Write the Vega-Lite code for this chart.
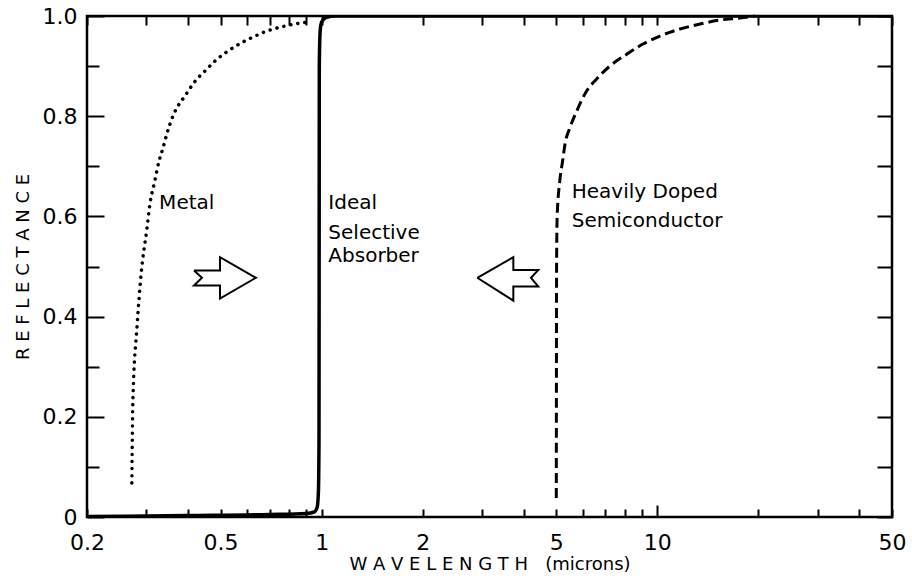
{
  "$schema": "https://vega.github.io/schema/vega-lite/v6.json",
  "width": 805,
  "height": 501,
  "autosize": "none",
  "padding": {"left": 87, "top": 16, "right": 20, "bottom": 66},
  "background": "white",
  "config": {
    "view": {"stroke": "black", "strokeWidth": 2.5},
    "axis": {
      "grid": false,
      "domain": false,
      "tickColor": "black",
      "tickWidth": 2,
      "labelColor": "black",
      "titleColor": "black",
      "labelFont": "DejaVu Sans",
      "titleFont": "DejaVu Sans",
      "labelFontWeight": "normal",
      "titleFontWeight": "normal"
    }
  },
  "resolve": {"axis": {"x": "independent", "y": "independent"}},
  "layer": [
    {
      "data": {"values": [
        {"w": 0.2, "r": 0.001}, {"w": 0.4, "r": 0.003}, {"w": 0.7, "r": 0.005},
        {"w": 0.9, "r": 0.007}, {"w": 0.95, "r": 0.01}, {"w": 0.97, "r": 0.02},
        {"w": 0.978, "r": 0.05}, {"w": 0.982, "r": 0.15}, {"w": 0.983, "r": 0.5},
        {"w": 0.984, "r": 0.9}, {"w": 0.99, "r": 0.97}, {"w": 1.0, "r": 0.988},
        {"w": 1.03, "r": 0.997}, {"w": 1.1, "r": 1.0}, {"w": 50, "r": 1.0}
      ]},
      "mark": {"type": "line", "color": "black", "strokeWidth": 3.5, "interpolate": "monotone", "clip": true},
      "encoding": {
        "x": {
          "field": "w", "type": "quantitative",
          "scale": {"type": "log", "domain": [0.2, 50], "nice": false},
          "axis": {
            "orient": "bottom",
            "title": "W A V E L E N G T H\u00a0\u00a0\u00a0(microns)",
            "titleFontSize": 18,
            "titlePadding": 2,
            "values": [0.2, 0.3, 0.4, 0.5, 0.6, 0.7, 0.8, 0.9, 1, 2, 3, 4, 5, 6, 7, 8, 9, 10, 20, 30, 40, 50],
            "format": "~g",
            "labelExpr": "indexof([0.2,0.5,1,2,5,10,50], datum.value) >= 0 ? datum.label : ''",
            "labelFontSize": 22,
            "labelPadding": {"condition": {"test": "datum.value == 10", "value": 27}, "value": 23},
            "labelFlush": false,
            "labelOverlap": false,
            "tickSize": {"condition": {"test": "datum.value == 10", "value": -12}, "value": -8}
          }
        },
        "y": {
          "field": "r", "type": "quantitative",
          "scale": {"domain": [0, 1], "nice": false, "zero": false},
          "axis": {
            "orient": "left",
            "title": "R E F L E C T A N C E",
            "titleFontSize": 18,
            "titlePadding": 10,
            "values": [0, 0.1, 0.2, 0.3, 0.4, 0.5, 0.6, 0.7, 0.8, 0.9, 1],
            "labelExpr": "round(datum.value*10) % 2 == 0 ? (datum.value == 0 ? '0' : format(datum.value, '.1f')) : ''",
            "labelFontSize": 22,
            "labelPadding": 27,
            "labelFlush": false,
            "labelOverlap": false,
            "tickSize": {"condition": {"test": "round(datum.value*10) % 2 == 0", "value": -17}, "value": -12}
          }
        }
      }
    },
    {
      "data": {"values": [
        {"w": 0.272, "r": 0.068}, {"w": 0.274, "r": 0.233}, {"w": 0.282, "r": 0.382},
        {"w": 0.29, "r": 0.486}, {"w": 0.302, "r": 0.578}, {"w": 0.308, "r": 0.625},
        {"w": 0.317, "r": 0.665}, {"w": 0.328, "r": 0.711}, {"w": 0.337, "r": 0.737},
        {"w": 0.346, "r": 0.765}, {"w": 0.361, "r": 0.801}, {"w": 0.394, "r": 0.843},
        {"w": 0.419, "r": 0.869}, {"w": 0.449, "r": 0.89}, {"w": 0.481, "r": 0.91},
        {"w": 0.526, "r": 0.93}, {"w": 0.575, "r": 0.946}, {"w": 0.625, "r": 0.958},
        {"w": 0.687, "r": 0.97}, {"w": 0.757, "r": 0.978}, {"w": 0.833, "r": 0.984},
        {"w": 0.916, "r": 0.988}
      ]},
      "mark": {"type": "line", "color": "black", "strokeWidth": 3.5, "strokeCap": "round", "strokeDash": [0.1, 7], "interpolate": "monotone"},
      "encoding": {
        "x": {
          "field": "w", "type": "quantitative",
          "axis": {
            "orient": "top", "title": null, "labels": false,
            "values": [0.2, 0.3, 0.4, 0.5, 0.6, 0.7, 0.8, 0.9, 1, 2, 3, 4, 5, 6, 7, 8, 9, 10, 20, 30, 40, 50],
            "tickSize": -9
          }
        },
        "y": {
          "field": "r", "type": "quantitative",
          "axis": {
            "orient": "right", "title": null, "labels": false,
            "values": [0, 0.1, 0.2, 0.3, 0.4, 0.5, 0.6, 0.7, 0.8, 0.9, 1],
            "tickSize": -15
          }
        }
      }
    },
    {
      "data": {"values": [
        {"w": 5.0, "r": 0.038}, {"w": 5.005, "r": 0.3}, {"w": 5.01, "r": 0.5},
        {"w": 5.03, "r": 0.6}, {"w": 5.12, "r": 0.67}, {"w": 5.22, "r": 0.71},
        {"w": 5.31, "r": 0.745}, {"w": 5.49, "r": 0.777}, {"w": 5.76, "r": 0.811},
        {"w": 6.09, "r": 0.845}, {"w": 6.61, "r": 0.875}, {"w": 7.22, "r": 0.9},
        {"w": 8.12, "r": 0.924}, {"w": 9.06, "r": 0.944}, {"w": 10.18, "r": 0.96},
        {"w": 11.68, "r": 0.974}, {"w": 13.4, "r": 0.984}, {"w": 15.4, "r": 0.992},
        {"w": 17.6, "r": 0.996}, {"w": 19.5, "r": 1.0}
      ]},
      "mark": {"type": "line", "color": "black", "strokeWidth": 3, "strokeDash": [10, 5], "interpolate": "monotone"},
      "encoding": {
        "x": {"field": "w", "type": "quantitative", "axis": null},
        "y": {"field": "r", "type": "quantitative", "axis": null}
      }
    },
    {
      "data": {"values": [
        {"arrow": "right", "i": 1, "w": 0.4166, "r": 0.492},
        {"arrow": "right", "i": 2, "w": 0.498, "r": 0.492},
        {"arrow": "right", "i": 3, "w": 0.498, "r": 0.5185},
        {"arrow": "right", "i": 4, "w": 0.637, "r": 0.4775},
        {"arrow": "right", "i": 5, "w": 0.498, "r": 0.436},
        {"arrow": "right", "i": 6, "w": 0.498, "r": 0.462},
        {"arrow": "right", "i": 7, "w": 0.4166, "r": 0.462},
        {"arrow": "right", "i": 8, "w": 0.44, "r": 0.4775},
        {"arrow": "right", "i": 9, "w": 0.4166, "r": 0.492},
        {"arrow": "left", "i": 1, "w": 2.908, "r": 0.4775},
        {"arrow": "left", "i": 2, "w": 3.724, "r": 0.5185},
        {"arrow": "left", "i": 3, "w": 3.724, "r": 0.493},
        {"arrow": "left", "i": 4, "w": 4.418, "r": 0.493},
        {"arrow": "left", "i": 5, "w": 4.204, "r": 0.4775},
        {"arrow": "left", "i": 6, "w": 4.418, "r": 0.46},
        {"arrow": "left", "i": 7, "w": 3.724, "r": 0.46},
        {"arrow": "left", "i": 8, "w": 3.724, "r": 0.432},
        {"arrow": "left", "i": 9, "w": 2.908, "r": 0.4775}
      ]},
      "mark": {"type": "line", "color": "black", "strokeWidth": 2, "strokeJoin": "miter"},
      "encoding": {
        "x": {"field": "w", "type": "quantitative", "axis": null},
        "y": {"field": "r", "type": "quantitative", "axis": null},
        "detail": {"field": "arrow"},
        "order": {"field": "i", "type": "quantitative"}
      }
    },
    {
      "data": {"values": [
        {"w": 0.328, "r": 0.6155, "t": "Metal"},
        {"w": 1.047, "r": 0.6155, "t": "Ideal"},
        {"w": 1.047, "r": 0.5558, "t": "Selective"},
        {"w": 1.047, "r": 0.508, "t": "Absorber"},
        {"w": 5.56, "r": 0.6375, "t": "Heavily Doped"},
        {"w": 5.56, "r": 0.5783, "t": "Semiconductor"}
      ]},
      "mark": {"type": "text", "align": "left", "baseline": "alphabetic", "font": "DejaVu Sans", "fontSize": 20, "color": "black"},
      "encoding": {
        "x": {"field": "w", "type": "quantitative", "axis": null},
        "y": {"field": "r", "type": "quantitative", "axis": null},
        "text": {"field": "t"}
      }
    }
  ]
}
